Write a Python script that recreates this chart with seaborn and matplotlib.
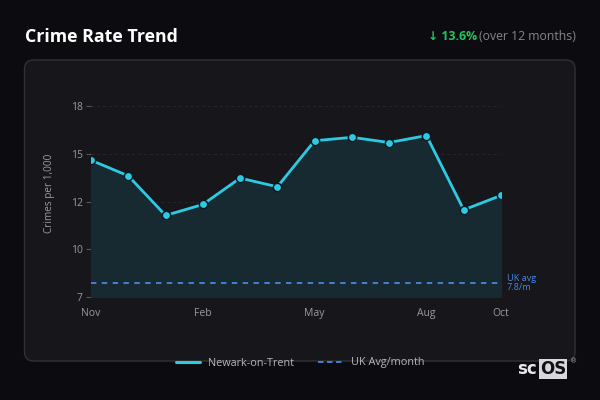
import numpy as np
import pandas as pd
import matplotlib
matplotlib.use("Agg")
import matplotlib.pyplot as plt
import seaborn as sns
from matplotlib.patches import FancyBboxPatch
from matplotlib.transforms import IdentityTransform
from matplotlib.lines import Line2D

# data
months = ['Nov', 'Dec', 'Jan', 'Feb', 'Mar', 'Apr', 'May', 'Jun', 'Jul', 'Aug', 'Sep', 'Oct']
crime_rate = [14.88, 13.98, 11.70, 12.33, 13.85, 13.35, 16.00, 16.20, 15.90, 16.30, 12.02, 12.85]
uk_avg = 7.8
tick_months = ['Nov', 'Feb', 'May', 'Aug', 'Oct']
y_ticks = np.linspace(7, 18, 5)

df = pd.DataFrame({'month': months, 'rate': crime_rate})
df['idx'] = range(len(df))

sns.set_theme(style='dark')
plt.rcParams['font.family'] = ['Open Sans', 'DejaVu Sans']

BG = '#0c0c10'
PANEL = '#16161b'
CYAN = '#2ccbe3'
BLUE = '#4a86e0'
GRAY = '#9a9aa2'

fig = plt.figure(figsize=(6, 4), dpi=100, facecolor=BG)

# panel card, behind the axes
panel = FancyBboxPatch((24.5, 400 - 361), 550.5, 301,
                       boxstyle="round,pad=0,rounding_size=9",
                       transform=IdentityTransform(),
                       facecolor=PANEL, edgecolor='#303036', linewidth=1.0,
                       zorder=-5)
fig.patches.append(panel)

ax = fig.add_axes([91 / 600, 1 - 297 / 400, 410 / 600, (297 - 88.7) / 400])
ax.set_facecolor('none')
ax.set_zorder(2)

ax.fill_between(df['idx'], df['rate'], 7, color='#182a31', zorder=1)
sns.lineplot(data=df, x='idx', y='rate', ax=ax, color=CYAN, linewidth=2.0,
             marker='o', markersize=6, markerfacecolor=CYAN,
             markeredgecolor='#0b1a22', markeredgewidth=1.1, zorder=4)
ax.axhline(uk_avg, color=BLUE, linestyle=(0, (3, 3)), linewidth=1.3, zorder=3)
ax.text(11.15, uk_avg, 'UK avg\n7.8/m', color=BLUE, fontsize=6.6,
        va='center', ha='left', linespacing=1.1)

ax.set_xlim(0, 11)
ax.set_ylim(7, 19)
ax.set_yticks(y_ticks)
ax.set_yticklabels(['%.0f' % v for v in y_ticks])
ax.set_xticks([months.index(m) for m in tick_months])
ax.set_xticklabels(tick_months)
ax.yaxis.grid(True, color='#26262c', linestyle=(0, (3, 3)), linewidth=0.7)
ax.xaxis.grid(False)
for s in ax.spines.values():
    s.set_visible(False)
ax.tick_params(axis='y', colors=GRAY, labelsize=7.5, length=3.5, width=0.8,
               pad=2.5, left=True, color='#55555c')
ax.tick_params(axis='x', colors=GRAY, labelsize=7.5, length=0, pad=8)
ax.set_xlabel('')
ax.set_ylabel('Crimes per 1,000', color=GRAY, fontsize=7.2, labelpad=11)

# legend
handles = [Line2D([], [], color=CYAN, linewidth=2.2),
           Line2D([], [], color=BLUE, linewidth=1.3, linestyle=(0, (3, 2)))]
leg = fig.legend(handles, ['Newark-on-Trent', 'UK Avg/month'], loc='center',
                 bbox_to_anchor=(0.5, 1 - 363 / 400), ncol=2, frameon=False,
                 fontsize=7.8, handlelength=2.2, columnspacing=2.2,
                 handletextpad=0.8)
for t in leg.get_texts():
    t.set_color('#b5b5bc')

# header
fig.text(25 / 600, 1 - 37 / 400, 'Crime Rate Trend', color='white',
         fontsize=12.8, fontweight='bold', va='center', ha='left')
sub = fig.text(576 / 600, 1 - 37 / 400, '(over 12 months)', color='#85858c',
               fontsize=8.8, va='center', ha='right')
fig.canvas.draw()
bb = sub.get_window_extent()
fig.text((bb.x0 - 2) / 600, 1 - 37 / 400, '↓ 13.6%', color='#22c55e',
         fontsize=8.8, fontweight='bold', va='center', ha='right')

# logo
fig.text(517 / 600, 1 - 369 / 400, 'sc', color='#e8e8ea', fontsize=12,
         fontweight='bold', va='center', ha='left', family=['DejaVu Sans'])
fig.text(540 / 600, 1 - 369 / 400, 'OS', color='#111111', fontsize=12,
         fontweight='bold', va='center', ha='left', family=['DejaVu Sans'],
         bbox=dict(boxstyle='square,pad=0.05', facecolor='#d8d8dc', edgecolor='none'))
fig.text(570 / 600, 1 - 361 / 400, '®', color='#aaaaaa', fontsize=5,
         va='center', ha='left', family=['DejaVu Sans'])

fig.savefig('out.png', dpi=100, facecolor=BG)
